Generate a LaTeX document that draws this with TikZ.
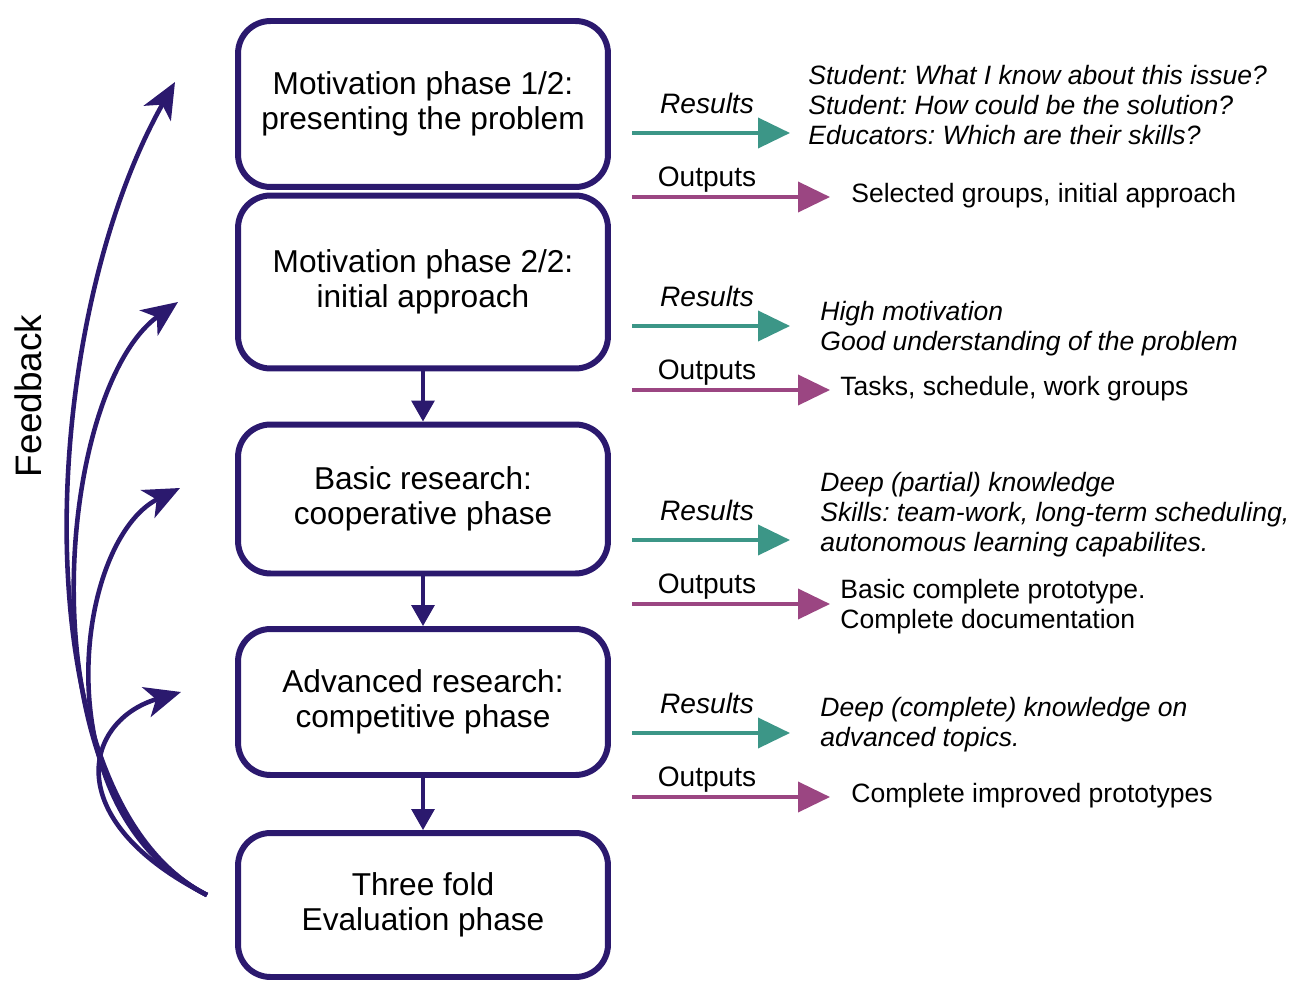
\documentclass[tikz,border=0pt]{standalone}
\usepackage{fontspec}
\setmainfont{Liberation Sans}
\usetikzlibrary{arrows.meta,positioning,shapes}
\frenchspacing

\definecolor{phaseblue}{RGB}{43,25,110}
\definecolor{resteal}{RGB}{60,150,135}
\definecolor{outpurple}{RGB}{155,70,130}

\tikzset{
  phase/.style={draw=phaseblue, line width=3.4pt, rounded corners=0.65cm,
    minimum width=7.4cm, align=center, font=\fontsize{18}{20}\selectfont},
  lab/.style={font=\fontsize{16}{18}\selectfont, inner sep=0pt},
  restext/.style={anchor=west, align=left, inner sep=0pt, font=\fontsize{15.1}{17}\selectfont\itshape},
  outtext/.style={anchor=west, align=left, inner sep=0pt, font=\fontsize{15.1}{17}\selectfont},
  resarrow/.style={draw=resteal, line width=2.2pt, -{Triangle[length=0.64cm,width=0.6cm]}},
  outarrow/.style={draw=outpurple, line width=2.2pt, -{Triangle[length=0.64cm,width=0.6cm]}},
  downarrow/.style={draw=phaseblue, line width=1.8pt, -{Triangle[length=0.42cm,width=0.46cm]}},
  fback/.style={draw=phaseblue, line width=2.6pt, -{Stealth[length=0.72cm,width=0.62cm,inset=0.2cm]}}
}

\begin{document}
\begin{tikzpicture}[x=0.02cm,y=-0.02cm]
\useasboundingbox (0,0) rectangle (1291,983);

% phases
\node[phase, minimum height=3.32cm] (mot1) at (423,104) {Motivation phase 1/2:\\presenting the problem};
\node[phase, minimum height=3.46cm] (mot2) at (423,282) {Motivation phase 2/2:\\initial approach};
\node[phase, minimum height=2.98cm] (basic) at (423,499) {Basic research:\\cooperative phase};
\node[phase, minimum height=2.92cm] (adv) at (423,702) {Advanced research:\\competitive phase};
\node[phase, minimum height=2.88cm] (eval) at (423,905) {Three fold\\Evaluation phase};

\draw[downarrow] (mot2.south) -- (basic.north);
\draw[downarrow] (basic.south) -- (adv.north);
\draw[downarrow] (adv.south) -- (eval.north);

% feedback
\node[rotate=90, font=\fontsize{21}{23}\selectfont] (fblabel) at (28,396) {Feedback};
\coordinate (fb) at (207,895);
\coordinate (fb1) at (175,82);
\coordinate (fb2) at (178,302);
\coordinate (fb3) at (180,488);
\coordinate (fb4) at (181,692);
\draw[fback] (fb) .. controls (20,800) and (35,330) .. (fb1);
\draw[fback] (fb) .. controls (20,800) and (55,390) .. (fb2);
\draw[fback] (fb) .. controls (39,810) and (75,540) .. (fb3);
\draw[fback] (fb) .. controls (57,819) and (85,720) .. (fb4);

% row 1
\node[lab] (res1) at (707,103) {\itshape Results};
\node[lab] (out1) at (707,180) {Outputs};
\coordinate (res1a) at (632,133); \coordinate (res1b) at (790,133);
\coordinate (out1a) at (632,197); \coordinate (out1b) at (830,197);
\draw[resarrow] (res1a) -- (res1b);
\draw[outarrow] (out1a) -- (out1b);
\node[restext] (res1t) at (808,105) {Student: What I know about this issue?\\Student: How could be the solution?\\Educators: Which are their skills?};
\node[outtext] (out1t) at (851,196) {Selected groups, initial approach};

% row 2
\node[lab] (res2) at (707,296) {\itshape Results};
\node[lab] (out2) at (707,373) {Outputs};
\coordinate (res2a) at (632,326); \coordinate (res2b) at (790,326);
\coordinate (out2a) at (632,390); \coordinate (out2b) at (830,390);
\draw[resarrow] (res2a) -- (res2b);
\draw[outarrow] (out2a) -- (out2b);
\node[restext] (res2t) at (820,329) {High motivation\\Good understanding of the problem};
\node[outtext] (out2t) at (840,389) {Tasks, schedule, work groups};

% row 3
\node[lab] (res3) at (707,510) {\itshape Results};
\node[lab] (out3) at (707,587) {Outputs};
\coordinate (res3a) at (632,540); \coordinate (res3b) at (790,540);
\coordinate (out3a) at (632,604); \coordinate (out3b) at (830,604);
\draw[resarrow] (res3a) -- (res3b);
\draw[outarrow] (out3a) -- (out3b);
\node[restext] (res3t) at (820,515) {Deep (partial) knowledge\\Skills: team-work, long-term scheduling,\\autonomous learning capabilites.};
\node[outtext] (out3t) at (840,607) {Basic complete prototype.\\Complete documentation};

% row 4
\node[lab] (res4) at (707,703) {\itshape Results};
\node[lab] (out4) at (707,780) {Outputs};
\coordinate (res4a) at (632,733); \coordinate (res4b) at (790,733);
\coordinate (out4a) at (632,797); \coordinate (out4b) at (830,797);
\draw[resarrow] (res4a) -- (res4b);
\draw[outarrow] (out4a) -- (out4b);
\node[restext] (res4t) at (820,725) {Deep (complete) knowledge on\\advanced topics.};
\node[outtext] (out4t) at (851,796) {Complete improved prototypes};
\end{tikzpicture}
\end{document}
